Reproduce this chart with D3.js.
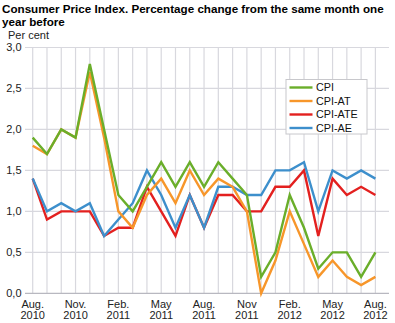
<!DOCTYPE html>
<html>
<head>
<meta charset="utf-8">
<script src="https://cdn.jsdelivr.net/npm/d3@7"></script>
<style>
  body { margin: 0; background: #fff; }
  svg { display: block; }
  .grid line { stroke: #d8d8de; stroke-width: 1.2; }
  .series { fill: none; stroke-width: 2.4; stroke-linejoin: miter; }
</style>
</head>
<body>
<div id="chart"></div>
<script>
// Months Aug 2010 .. Aug 2012
var months = ["Aug.|2010", "", "", "Nov.|2010", "", "", "Feb.|2011", "", "", "May|2011", "", "",
              "Aug.|2011", "", "", "Nov|2011", "", "", "Feb.|2012", "", "", "May|2012", "", "", "Aug.|2012"];

var cpi    = [1.9, 1.7, 2.0, 1.9, 2.8, 2.0, 1.2, 1.0, 1.3, 1.6, 1.3, 1.6, 1.3, 1.6, 1.4, 1.2, 0.2, 0.5, 1.2, 0.8, 0.3, 0.5, 0.5, 0.2, 0.5];
var cpiAT  = [1.8, 1.7, 2.0, 1.9, 2.7, 1.9, 1.0, 0.8, 1.2, 1.4, 1.1, 1.5, 1.2, 1.4, 1.3, 1.0, 0.0, 0.4, 1.0, 0.6, 0.2, 0.4, 0.2, 0.1, 0.2];
var cpiATE = [1.4, 0.9, 1.0, 1.0, 1.0, 0.7, 0.8, 0.8, 1.3, 1.0, 0.7, 1.2, 0.8, 1.2, 1.2, 1.0, 1.0, 1.3, 1.3, 1.5, 0.7, 1.4, 1.2, 1.3, 1.2];
var cpiAE  = [1.4, 1.0, 1.1, 1.0, 1.1, 0.7, 0.9, 1.1, 1.5, 1.2, 0.8, 1.2, 0.8, 1.3, 1.3, 1.2, 1.2, 1.5, 1.5, 1.6, 1.0, 1.5, 1.4, 1.5, 1.4];

var seriesNames = ["CPI", "CPI-AT", "CPI-ATE", "CPI-AE"];
var seriesColors = ["#6aae2a", "#f7962a", "#e3201f", "#3d8fcc"];
var yTicks = [0, 0.5, 1.0, 1.5, 2.0, 2.5, 3.0];

var width = 395, height = 323;
var margin = {top: 47.5, right: 13.3, bottom: 29.7, left: 32.7};

var svg = d3.select("#chart").append("svg")
  .attr("width", width)
  .attr("height", height)
  .attr("font-family", "'Liberation Sans', Arial, Helvetica, sans-serif");

// Title
var title = svg.append("text")
  .attr("font-size", 11.65)
  .attr("font-weight", "bold")
  .attr("fill", "#000");
title.append("tspan").attr("x", 2).attr("y", 13).text("Consumer Price Index. Percentage change from the same month one");
title.append("tspan").attr("x", 2).attr("y", 26).text("year before");

svg.append("text")
  .attr("x", 8)
  .attr("y", 38.5)
  .attr("font-size", 11)
  .attr("fill", "#222")
  .text("Per cent");

var x = d3.scalePoint()
  .domain(d3.range(months.length))
  .range([margin.left, width - margin.right - 6.3]);

var y = d3.scaleLinear()
  .domain([0, 3])
  .range([height - margin.bottom, margin.top]);

var gridLeft = 25, gridRight = 389;

// Grid
var grid = svg.append("g").attr("class", "grid");
grid.selectAll("line.h")
  .data(yTicks.slice(1))
  .enter().append("line")
  .attr("class", "h")
  .attr("x1", gridLeft).attr("x2", gridRight)
  .attr("y1", function(d) { return y(d); })
  .attr("y2", function(d) { return y(d); });
grid.selectAll("line.v")
  .data(d3.range(months.length))
  .enter().append("line")
  .attr("class", "v")
  .attr("x1", function(d) { return x(d); })
  .attr("x2", function(d) { return x(d); })
  .attr("y1", y(3))
  .attr("y2", y(0));

// Baseline
svg.append("line")
  .attr("x1", gridLeft).attr("x2", gridRight)
  .attr("y1", y(0)).attr("y2", y(0))
  .attr("stroke", "#b8b8c0")
  .attr("stroke-width", 1.2);

// Y axis labels
svg.append("g")
  .selectAll("text")
  .data(yTicks)
  .enter().append("text")
  .attr("x", 21.5)
  .attr("y", function(d) { return y(d); })
  .attr("dy", "0.35em")
  .attr("text-anchor", "end")
  .attr("font-size", 11)
  .attr("fill", "#222")
  .text(function(d) { return d3.format(".1f")(d).replace(".", ","); });

// X axis labels
var xl = svg.append("g")
  .selectAll("text")
  .data(months.map(function(m, i) { return {m: m, i: i}; }).filter(function(d) { return d.m; }))
  .enter().append("text")
  .attr("text-anchor", "middle")
  .attr("font-size", 11)
  .attr("fill", "#222");
xl.append("tspan")
  .attr("x", function(d) { return x(d.i); })
  .attr("y", 307.5)
  .text(function(d) { return d.m.split("|")[0]; });
xl.append("tspan")
  .attr("x", function(d) { return x(d.i); })
  .attr("y", 318.5)
  .text(function(d) { return d.m.split("|")[1]; });

// Lines, drawn so CPI ends up on top
var line = d3.line()
  .x(function(d, i) { return x(i); })
  .y(function(d) { return y(d); });

var allSeries = [cpi, cpiAT, cpiATE, cpiAE];
[2, 3, 1, 0].forEach(function(k) {
  svg.append("path")
    .datum(allSeries[k])
    .attr("class", "series")
    .attr("stroke", seriesColors[k])
    .attr("d", line);
});

// Legend
var legend = svg.append("g").attr("transform", "translate(286,79.5)");
legend.append("rect")
  .attr("width", 81)
  .attr("height", 54.5)
  .attr("fill", "#fff")
  .attr("stroke", "#c8c8cc")
  .attr("stroke-width", 1);
seriesNames.forEach(function(name, k) {
  var ly = 8 + k * 13.5;
  legend.append("line")
    .attr("x1", 3.5).attr("x2", 26.5)
    .attr("y1", ly).attr("y2", ly)
    .attr("stroke", seriesColors[k])
    .attr("stroke-width", 2.4);
  legend.append("text")
    .attr("x", 30)
    .attr("y", ly)
    .attr("dy", "0.35em")
    .attr("font-size", 10.8)
    .attr("fill", "#111")
    .text(name);
});
</script>
</body>
</html>
